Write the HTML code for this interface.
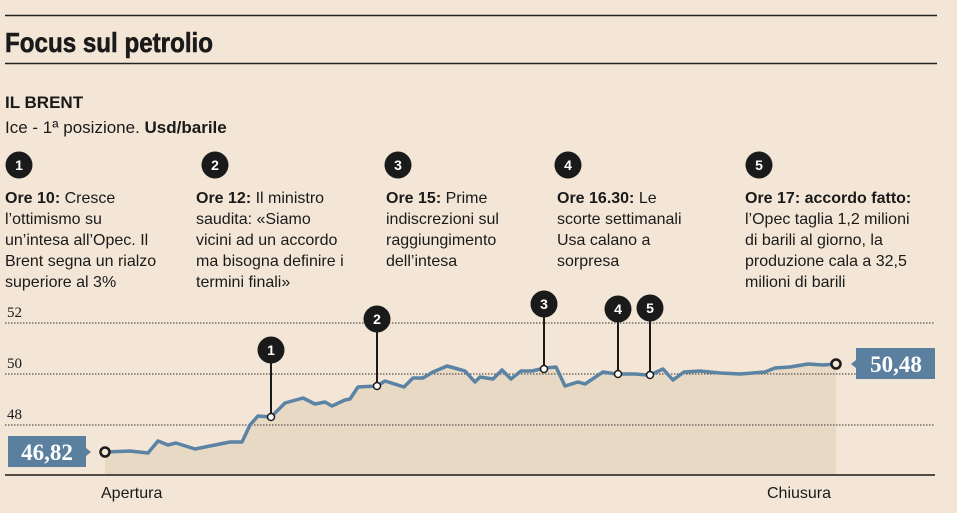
<!DOCTYPE html>
<html><head><meta charset="utf-8"><style>
html,body{margin:0;padding:0;background:#f3e6d6;}
svg{display:block}
text{font-family:"Liberation Sans",sans-serif;fill:#1a1a1a}
.b{font-weight:bold}
.t{font-size:16px}
</style></head><body>
<svg width="957" height="513" viewBox="0 0 957 513" xmlns="http://www.w3.org/2000/svg">
<rect width="957" height="513" fill="#f3e6d6"/>
<line x1="5" y1="15.5" x2="937" y2="15.5" stroke="#222" stroke-width="1.5"/>
<line x1="5" y1="63.5" x2="937" y2="63.5" stroke="#222" stroke-width="1.5"/>
<text x="5" y="52" class="b" font-size="28" textLength="208" lengthAdjust="spacingAndGlyphs" stroke="#1a1a1a" stroke-width="0.6">Focus sul petrolio</text>
<text x="5" y="108" class="b" font-size="17">IL BRENT</text>
<text x="5" y="133" font-size="17">Ice - 1ª posizione. <tspan class="b">Usd/barile</tspan></text>

<g font-weight="bold" font-size="14">
<circle cx="19" cy="165" r="13.5" fill="#1a1a1a"/><text x="19" y="170" text-anchor="middle" style="fill:#fff">1</text>
<circle cx="215" cy="165" r="13.5" fill="#1a1a1a"/><text x="215" y="170" text-anchor="middle" style="fill:#fff">2</text>
<circle cx="398" cy="165" r="13.5" fill="#1a1a1a"/><text x="398" y="170" text-anchor="middle" style="fill:#fff">3</text>
<circle cx="568" cy="165" r="13.5" fill="#1a1a1a"/><text x="568" y="170" text-anchor="middle" style="fill:#fff">4</text>
<circle cx="759" cy="165" r="13.5" fill="#1a1a1a"/><text x="759" y="170" text-anchor="middle" style="fill:#fff">5</text>
</g>
<g class="t">
<text x="5" y="203"><tspan class="b">Ore 10:</tspan> Cresce</text>
<text x="5" y="224">l’ottimismo su</text>
<text x="5" y="245">un’intesa all’Opec. Il</text>
<text x="5" y="266">Brent segna un rialzo</text>
<text x="5" y="287">superiore al 3%</text>
<text x="196" y="203"><tspan class="b">Ore 12:</tspan> Il ministro</text>
<text x="196" y="224">saudita: «Siamo</text>
<text x="196" y="245">vicini ad un accordo</text>
<text x="196" y="266">ma bisogna definire i</text>
<text x="196" y="287">termini finali»</text>
<text x="386" y="203"><tspan class="b">Ore 15:</tspan> Prime</text>
<text x="386" y="224">indiscrezioni sul</text>
<text x="386" y="245">raggiungimento</text>
<text x="386" y="266">dell’intesa</text>
<text x="557" y="203"><tspan class="b">Ore 16.30:</tspan> Le</text>
<text x="557" y="224">scorte settimanali</text>
<text x="557" y="245">Usa calano a</text>
<text x="557" y="266">sorpresa</text>
<text x="745" y="203" class="b">Ore 17: accordo fatto:</text>
<text x="745" y="224">l’Opec taglia 1,2 milioni</text>
<text x="745" y="245">di barili al giorno, la</text>
<text x="745" y="266">produzione cala a 32,5</text>
<text x="745" y="287">milioni di barili</text>
</g>

<polygon fill="#e8d9c5" points="105,475 105,452 130,451 148,453 158,441 168,445 176,443 195,449 215,445 230,442 242,442 250,425 258,416 271,417 285,403 303,398 315,404 325,402 332,406 345,400 350,399 358,387 377,386 385,381 404,387 413,378 423,378 433,372 447,366 458,369 465,371 475,382 480,377 493,379 502,370 511,379 521,371 532,371 545,368 556,367 565,386 578,382 585,384 603,372 616,374 635,374 647,375 650,375 663,369 673,380 684,372 700,371 720,373 740,374 753,373 765,372 775,368 790,367 808,364 823,365 836,364 836,475"/>
<g stroke="#333" stroke-width="1" stroke-dasharray="1.5,1.5">
<line x1="5" y1="323" x2="935" y2="323"/>
<line x1="5" y1="374" x2="935" y2="374"/>
<line x1="5" y1="425" x2="935" y2="425"/>
</g>
<g font-size="15">
<text x="7" y="317" style="font-family:'Liberation Serif',serif">52</text>
<text x="7" y="368" style="font-family:'Liberation Serif',serif">50</text>
<text x="7" y="419" style="font-family:'Liberation Serif',serif">48</text>
</g>
<line x1="5" y1="475" x2="935" y2="475" stroke="#1a1a1a" stroke-width="1.5"/>
<polyline fill="none" stroke="#5b83a3" stroke-width="3.5" stroke-linejoin="round" points="105,452 130,451 148,453 158,441 168,445 176,443 195,449 215,445 230,442 242,442 250,425 258,416 271,417 285,403 303,398 315,404 325,402 332,406 345,400 350,399 358,387 377,386 385,381 404,387 413,378 423,378 433,372 447,366 458,369 465,371 475,382 480,377 493,379 502,370 511,379 521,371 532,371 545,368 556,367 565,386 578,382 585,384 603,372 616,374 635,374 647,375 650,375 663,369 673,380 684,372 700,371 720,373 740,374 753,373 765,372 775,368 790,367 808,364 823,365 836,364"/>

<g stroke="#1a1a1a" stroke-width="2">
<line x1="271" y1="350" x2="271" y2="417"/>
<line x1="377" y1="319" x2="377" y2="386"/>
<line x1="544" y1="304" x2="544" y2="369"/>
<line x1="618" y1="309" x2="618" y2="374"/>
<line x1="650" y1="308" x2="650" y2="375"/>
</g>
<g fill="#fff" stroke="#1a1a1a" stroke-width="1.5">
<circle cx="271" cy="417" r="3.5"/><circle cx="377" cy="386" r="3.5"/><circle cx="544" cy="369" r="3.5"/><circle cx="618" cy="374" r="3.5"/><circle cx="650" cy="375" r="3.5"/>
</g>
<g font-weight="bold" font-size="14">
<circle cx="271" cy="350" r="13.5" fill="#1a1a1a"/><text x="271" y="355" text-anchor="middle" style="fill:#fff">1</text>
<circle cx="377" cy="319" r="13.5" fill="#1a1a1a"/><text x="377" y="324" text-anchor="middle" style="fill:#fff">2</text>
<circle cx="544" cy="304" r="13.5" fill="#1a1a1a"/><text x="544" y="309" text-anchor="middle" style="fill:#fff">3</text>
<circle cx="618" cy="309" r="13.5" fill="#1a1a1a"/><text x="618" y="314" text-anchor="middle" style="fill:#fff">4</text>
<circle cx="650" cy="308" r="13.5" fill="#1a1a1a"/><text x="650" y="313" text-anchor="middle" style="fill:#fff">5</text>
</g>
<circle cx="105" cy="452" r="4.5" fill="#f3e6d6" stroke="#1a1a1a" stroke-width="2.5"/>
<circle cx="836" cy="364" r="4.5" fill="#f3e6d6" stroke="#1a1a1a" stroke-width="2.5"/>

<polygon points="8,436 86,436 86,448 91,452 86,456 86,467 8,467" fill="#5a7f9f"/>
<text x="47" y="460" text-anchor="middle" font-size="23" font-weight="bold" style="fill:#fff;font-family:'Liberation Serif',serif">46,82</text>
<polygon points="856,348 935,348 935,379 856,379 856,368 851,364 856,360" fill="#5a7f9f"/>
<text x="896" y="372" text-anchor="middle" font-size="23" font-weight="bold" style="fill:#fff;font-family:'Liberation Serif',serif">50,48</text>

<text x="101" y="498" font-size="16">Apertura</text>
<text x="767" y="498" font-size="16">Chiusura</text>
</svg>
</body></html>
